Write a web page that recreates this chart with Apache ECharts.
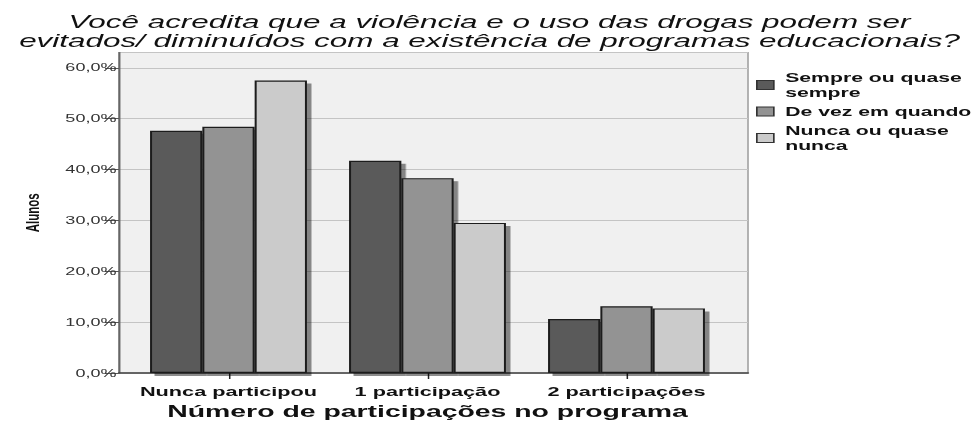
<!DOCTYPE html>
<html>
<head>
<meta charset="utf-8">
<script src="https://cdn.jsdelivr.net/npm/echarts@6/dist/echarts.min.js"></script>
<style>
  html, body { margin: 0; padding: 0; background: #fff; overflow: hidden; }
  #wrap { width: 979px; height: 423px; overflow: hidden; }
  /* the chart is laid out narrow and stretched sideways, like the exported SPSS figure */
  #chart { width: 586px; height: 423px; transform: scaleX(1.67065); transform-origin: 0 0; }
</style>
</head>
<body>
<div id="wrap"><div id="chart"></div></div>
<script>
const categories = ['Nunca participou', '1 participação', '2 participações'];
const seriesNames = ['Sempre ou quase\nsempre', 'De vez em quando', 'Nunca ou quase\nnunca'];
const sempre = [47.6, 41.7, 10.6];
const deVezEmQuando = [48.4, 38.3, 13.1];
const nunca = [57.5, 29.5, 12.7];
const yTicks = [0, 10, 20, 30, 40, 50, 60];

const SX = 979 / 586;
// convert a horizontal distance on the page to the unstretched chart space
const px = x => x / SX;

const barColors = ['#5a5a5a', '#939393', '#cbcbcb'];
const seriesValues = [sempre, deVezEmQuando, nunca];

const chart = echarts.init(document.getElementById('chart'), null, { renderer: 'svg' });

const font = 'Liberation Sans, Arial, sans-serif';

chart.setOption({
  animation: false,
  backgroundColor: '#ffffff',
  title: {
    text: 'Você acredita que a violência e o uso das drogas podem ser\nevitados/ diminuídos com a existência de programas educacionais?',
    left: 'center',
    top: 12,
    padding: [0, 6.6, 0, 0],
    textStyle: {
      fontFamily: font,
      fontSize: 18.8,
      fontStyle: 'italic',
      fontWeight: 'normal',
      color: '#111',
      lineHeight: 19
    }
  },
  legend: {
    data: seriesNames,
    orient: 'vertical',
    left: px(756),
    top: 70,
    padding: 0,
    itemWidth: px(17),
    itemHeight: 9,
    itemGap: 4,
    selectedMode: false,
    icon: 'rect',
    textStyle: {
      fontFamily: font,
      fontSize: 12.7,
      fontWeight: 'bold',
      color: '#111',
      lineHeight: 15,
      padding: [0, 0, 0, px(3)]
    },
    itemStyle: {
      borderColor: '#333',
      borderWidth: 1,
      shadowBlur: 0,
      shadowOffsetX: 0,
      shadowOffsetY: 0,
      shadowColor: 'transparent'
    }
  },
  grid: [
    {
      left: px(119), width: px(629), top: 52.5, bottom: 50,
      show: true, backgroundColor: '#f0f0f0', borderColor: '#a5a5a5', borderWidth: 1,
      outerBoundsMode: 'none'
    },
    {
      left: px(129), width: px(597), top: 52.5, bottom: 50,
      outerBoundsMode: 'none'
    }
  ],
  xAxis: [
    {
      gridIndex: 0, type: 'value', min: 0, max: 1,
      axisLine: { show: true, lineStyle: { color: '#444', width: 1.5 } },
      axisTick: { show: false }, axisLabel: { show: false }, splitLine: { show: false }
    },
    {
      gridIndex: 1, type: 'category', data: categories,
      axisLine: { show: false },
      axisTick: { show: true, alignWithLabel: true, length: 6, lineStyle: { color: '#222', width: px(1.5) } },
      axisLabel: {
        interval: 0, hideOverlap: false,
        margin: 12, fontFamily: font, fontSize: 13, fontWeight: 'bold', color: '#111'
      },
      splitLine: { show: false },
      name: 'Número de participações no programa',
      nameLocation: 'middle',
      nameGap: 30,
      nameTextStyle: { fontFamily: font, fontSize: 17, fontWeight: 'bold', color: '#111', verticalAlign: 'top' }
    }
  ],
  yAxis: [
    {
      gridIndex: 0, type: 'value', min: 0, max: 63, interval: 10,
      axisLine: { show: true, lineStyle: { color: '#666', width: px(2) } },
      axisTick: { show: false }, axisLabel: { show: false },
      splitLine: { show: true, lineStyle: { color: '#c4c4c4', width: 1 } }
    },
    {
      gridIndex: 1, type: 'value', min: 0, max: 63, interval: 10,
      offset: px(10),
      axisLine: { show: false },
      axisTick: { show: true, length: px(14), customValues: yTicks, lineStyle: { color: '#555', width: 1 } },
      axisLabel: {
        margin: px(2.5),
        customValues: yTicks,
        formatter: v => v.toFixed(1).replace('.', ',') + '%',
        fontFamily: font, fontSize: 10.8, color: '#333'
      },
      splitLine: { show: false },
      name: 'Alunos',
      nameLocation: 'middle',
      nameGap: 46,
      nameTextStyle: { fontFamily: font, fontSize: 11.5, fontWeight: 'bold', color: '#111' }
    }
  ],
  series: seriesNames.map((name, i) => ({
    name: name,
    type: 'bar',
    xAxisIndex: 1,
    yAxisIndex: 1,
    data: seriesValues[i],
    barWidth: px(52.3),
    barGap: '0%',
    itemStyle: {
      color: barColors[i],
      borderColor: '#1b1b1b',
      borderWidth: 1.2,
      shadowColor: 'rgba(0,0,0,0.45)',
      shadowOffsetX: px(4.5),
      shadowOffsetY: 3,
      shadowBlur: 0
    }
  }))
});
</script>
</body>
</html>
